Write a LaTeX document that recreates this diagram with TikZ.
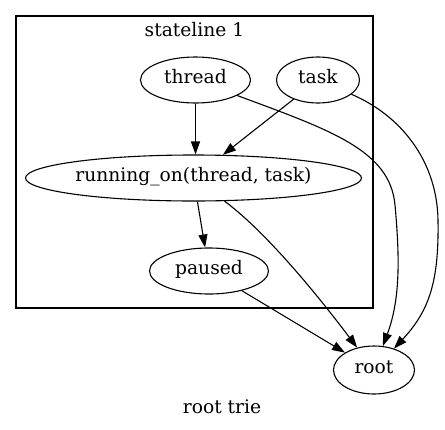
\documentclass[tikz,border=0pt]{standalone}
\usepackage{fontspec}
\setmainfont{DejaVu Serif}
\usetikzlibrary{shapes.geometric,arrows.meta}
\begin{document}
\begin{tikzpicture}[x=1pt,y=-1pt,
  every node/.style={font=\fontsize{18.67}{22}\selectfont},
  st/.style={ellipse,draw,line width=1.1pt,inner sep=0pt,minimum height=46pt,text height=0.74em,text depth=0pt},
  lbl/.style={inner sep=0pt,anchor=base},
  edge/.style={line width=1.1pt,-{Triangle[length=13pt,width=9pt]}},
  frame/.style={draw,line width=1.2pt}]
\useasboundingbox (0,0) rectangle (445,429);
\draw[frame] (16,16) rectangle (373,308);
\node[lbl] (cl) at (194.5,36) {stateline 1};
\node[lbl] (rt) at (222,413.5) {root trie};
\node[st,minimum width=110pt] (thread) at (195.5,80) {thread};
\node[st,minimum width=83pt] (task) at (318,80) {task};
\node[st,minimum width=336pt] (run) at (193.5,178) {running\_on(thread, task)};
\node[st,minimum width=119pt] (paused) at (209,271) {paused};
\node[st,minimum width=81pt,minimum height=48pt] (root) at (374,370) {root};
\draw[edge] (thread.south) -- (thread.south |- run.north);
\draw[edge] (task) -- (run);
\draw[edge] (run) -- (paused);
\draw[edge] (paused) -- (root);
\draw[edge] (run) .. controls (270,235) and (325,305) .. (root);
\draw[edge] (thread) .. controls (330,130) and (390,150) .. (395,205) .. controls (400,260) and (400,300) .. (root);
\draw[edge] (task) .. controls (400,115) and (437,160) .. (438,220) .. controls (439,280) and (430,310) .. (root);
\end{tikzpicture}
\end{document}
